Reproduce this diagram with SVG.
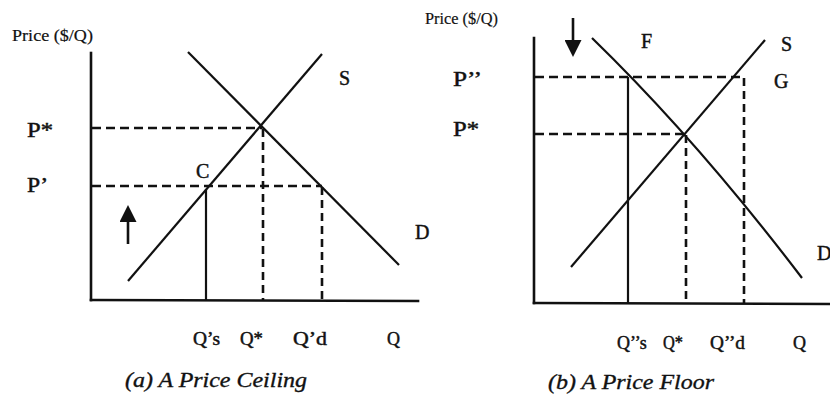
<svg xmlns="http://www.w3.org/2000/svg" width="830" height="395" viewBox="0 0 830 395" font-family="'Liberation Serif', 'Times New Roman', serif">
<style>
  .ax{stroke:#111;stroke-width:2.6;fill:none;stroke-linecap:square}
  .cv{stroke:#111;stroke-width:2.2;fill:none}
  .sl{stroke:#111;stroke-width:2.2;fill:none}
  .dh{stroke:#111;stroke-width:2.6;fill:none;stroke-dasharray:9 5}
  .dv{stroke:#111;stroke-width:2.6;fill:none;stroke-dasharray:8 5}
  .ar{stroke:#111;stroke-width:2.6;fill:none}
  text{font-family:'Liberation Serif','Times New Roman',serif;fill:#111;stroke:#111;stroke-width:0.45}
  .lb{font-size:20px}
  .ql{font-size:18px}
  .yl{font-size:16.5px;stroke-width:0.2}
  .tt{font-size:21px;font-style:italic;stroke-width:0.35}
</style>
<defs>
  <marker id="ah" markerUnits="userSpaceOnUse" markerWidth="17" markerHeight="17" viewBox="0 0 17 17" refX="10" refY="8.5" orient="auto">
    <path d="M0,0 L17,8.5 L0,17 Z" fill="#111"/>
  </marker>
</defs>
<rect width="830" height="395" fill="#fff"/>

<g id="panel-a">
  <g id="axes-a">
    <line class="ax" x1="91" y1="53" x2="91" y2="300"/>
    <line class="ax" x1="91" y1="300" x2="418" y2="301"/>
  </g>
  <g id="connectors-a">
    <line id="demand-a" class="cv" x1="188" y1="52" x2="399" y2="265"/>
    <line id="supply-a" class="cv" x1="128" y1="281" x2="322" y2="54"/>
    <line class="dh" x1="92" y1="128" x2="262" y2="128"/>
    <line class="dh" x1="92" y1="186" x2="322" y2="186"/>
    <line class="dv" x1="263" y1="129" x2="263" y2="300"/>
    <line class="dv" x1="322" y1="187" x2="322" y2="300"/>
    <line class="sl" x1="206" y1="189" x2="206" y2="300"/>
    <line class="ar" x1="128" y1="244" x2="128" y2="212" marker-end="url(#ah)"/>
  </g>
  <g id="labels-a">
    <text class="yl" x="12" y="41" textLength="81" lengthAdjust="spacingAndGlyphs">Price ($/Q)</text>
    <text class="lb" x="27" y="137" textLength="26" lengthAdjust="spacingAndGlyphs">P*</text>
    <text class="lb" x="27" y="192" textLength="21" lengthAdjust="spacingAndGlyphs">P’</text>
    <text class="lb" x="339" y="85">S</text>
    <text class="lb" x="196" y="178">C</text>
    <text class="lb" x="415" y="239">D</text>
    <text class="ql" x="193" y="345" textLength="27" lengthAdjust="spacingAndGlyphs">Q’s</text>
    <text class="ql" x="240" y="345" textLength="23" lengthAdjust="spacingAndGlyphs">Q*</text>
    <text class="ql" x="293" y="345" textLength="34" lengthAdjust="spacingAndGlyphs">Q’d</text>
    <text class="ql" x="387" y="345">Q</text>
    <text class="tt" x="125" y="387" textLength="182" lengthAdjust="spacingAndGlyphs">(a) A Price Ceiling</text>
  </g>
</g>

<g id="panel-b">
  <g id="axes-b">
    <line class="ax" x1="534" y1="38" x2="534" y2="303"/>
    <line class="ax" x1="534" y1="303" x2="832" y2="304"/>
  </g>
  <g id="connectors-b">
    <path id="demand-b" class="cv" d="M592,38 Q697,140 802,278"/>
    <line id="supply-b" class="cv" x1="571" y1="267" x2="765" y2="40"/>
    <line class="dh" x1="535" y1="77" x2="744" y2="77"/>
    <line class="dh" x1="535" y1="134" x2="685" y2="134"/>
    <line class="dv" x1="686" y1="135" x2="686" y2="303"/>
    <line class="dv" x1="744" y1="78" x2="744" y2="303"/>
    <line class="sl" x1="628" y1="77" x2="628" y2="303"/>
    <line class="ar" x1="573" y1="18" x2="573" y2="50" marker-end="url(#ah)"/>
  </g>
  <g id="labels-b">
    <text class="yl" x="425" y="24" textLength="73" lengthAdjust="spacingAndGlyphs">Price ($/Q)</text>
    <text class="lb" x="453" y="86" textLength="29" lengthAdjust="spacingAndGlyphs">P’’</text>
    <text class="lb" x="453" y="136" textLength="26" lengthAdjust="spacingAndGlyphs">P*</text>
    <text class="lb" x="641" y="48">F</text>
    <text class="lb" x="781" y="51">S</text>
    <text class="lb" x="774" y="88">G</text>
    <text class="lb" x="817" y="260">D</text>
    <text class="ql" x="617" y="349">Q’’s</text>
    <text class="ql" x="663" y="349" textLength="20" lengthAdjust="spacingAndGlyphs">Q*</text>
    <text class="ql" x="710" y="349" textLength="35" lengthAdjust="spacingAndGlyphs">Q’’d</text>
    <text class="ql" x="793" y="349">Q</text>
    <text class="tt" x="548" y="389" textLength="166" lengthAdjust="spacingAndGlyphs">(b) A Price Floor</text>
  </g>
</g>
</svg>
